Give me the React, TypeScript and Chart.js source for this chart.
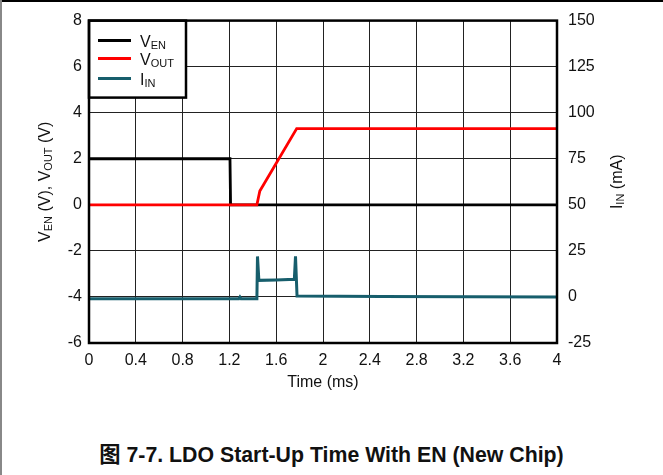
import React, { useEffect, useRef } from "react";
import { Chart, registerables } from "chart.js";

Chart.register(...registerables);

// ---- data ----
const venTime = [0, 1.205, 1.21, 4];
const venValues = [2, 2, 0, 0];

const voutTime = [0, 1.435, 1.46, 1.775, 4];
const voutValues = [0, 0, 0.6, 3.31, 3.31];

const iinTime = [0, 1.28, 1.29, 1.3, 1.435, 1.44, 1.452, 1.6, 1.755, 1.765, 1.778, 2.5, 4];
const iinValues = [-1, -1, 0, -1, -1, 22, 9, 9.2, 9.6, 22, 0.5, 0.3, 0];

const seriesLabels: [string, string][] = [["V", "EN"], ["V", "OUT"], ["I", "IN"]];
const seriesColors = ["#000000", "#ff0000", "#175e6c"];

const xTitle = "Time (ms)";
const caption = "图 7-7. LDO Start-Up Time With EN (New Chip)";

const FONT = "'Liberation Sans', Arial, sans-serif";

type Seg = { t: string; sub?: boolean };

function segWidth(ctx: CanvasRenderingContext2D, segs: Seg[], main: number, sub: number) {
  let w = 0;
  for (const s of segs) {
    ctx.font = `${s.sub ? sub : main}px ${FONT}`;
    w += ctx.measureText(s.t).width;
  }
  return w;
}

function drawSegs(ctx: CanvasRenderingContext2D, segs: Seg[], x: number, y: number, main: number, sub: number) {
  let cx = x;
  ctx.textAlign = "left";
  ctx.textBaseline = "alphabetic";
  for (const s of segs) {
    ctx.font = `${s.sub ? sub : main}px ${FONT}`;
    ctx.fillText(s.t, cx, y + (s.sub ? 2 : 0));
    cx += ctx.measureText(s.t).width;
  }
}

const overlayPlugin = {
  id: "overlay",
  afterDraw(chart: any) {
    const ctx: CanvasRenderingContext2D = chart.ctx;
    const a = chart.chartArea;
    ctx.save();

    // legend
    const lw = 97, lh = 77;
    ctx.fillStyle = "#fff";
    ctx.fillRect(a.left, a.top, lw, lh);
    ctx.lineWidth = 2.5;
    ctx.strokeStyle = "#000";
    ctx.strokeRect(a.left, a.top, lw, lh);
    const rows = [20, 38, 58];
    seriesLabels.forEach((lab, i) => {
      const y = a.top + rows[i];
      ctx.strokeStyle = seriesColors[i];
      ctx.lineWidth = 3;
      ctx.beginPath();
      ctx.moveTo(a.left + 9, y);
      ctx.lineTo(a.left + 42, y);
      ctx.stroke();
      ctx.fillStyle = "#111";
      drawSegs(ctx, [{ t: lab[0] }, { t: lab[1], sub: true }], a.left + 51, y + 6, 16, 11);
    });

    // frame
    ctx.lineWidth = 2.5;
    ctx.strokeStyle = "#000";
    ctx.strokeRect(a.left, a.top, a.right - a.left, a.bottom - a.top);

    ctx.fillStyle = "#111";
    // x title
    ctx.font = `16px ${FONT}`;
    ctx.textAlign = "center";
    ctx.textBaseline = "alphabetic";
    ctx.fillText(xTitle, (a.left + a.right) / 2, a.bottom + 44);

    const midY = (a.top + a.bottom) / 2;
    // left title
    const leftSegs: Seg[] = [
      { t: "V" }, { t: "EN", sub: true }, { t: " (V), V" }, { t: "OUT", sub: true }, { t: " (V)" },
    ];
    ctx.save();
    ctx.translate(50, midY);
    ctx.rotate(-Math.PI / 2);
    const w1 = segWidth(ctx, leftSegs, 16, 11);
    drawSegs(ctx, leftSegs, -w1 / 2, 0, 16, 11);
    ctx.restore();

    // right title
    const rightSegs: Seg[] = [{ t: "I" }, { t: "IN", sub: true }, { t: " (mA)" }];
    ctx.save();
    ctx.translate(622, midY);
    ctx.rotate(-Math.PI / 2);
    const w2 = segWidth(ctx, rightSegs, 16, 11);
    drawSegs(ctx, rightSegs, -w2 / 2, 0, 16, 11);
    ctx.restore();

    ctx.restore();
  },
};

export default function App() {
  const ref = useRef<HTMLCanvasElement | null>(null);

  useEffect(() => {
    document.body.style.margin = "0";
    const canvas = ref.current!;
    const toPts = (xs: number[], ys: number[]) => xs.map((x, i) => ({ x, y: ys[i] }));
    const chart = new Chart(canvas, {
      type: "line",
      data: {
        datasets: [
          {
            label: "VOUT",
            data: toPts(voutTime, voutValues),
            borderColor: seriesColors[1],
            borderWidth: 2.8,
            yAxisID: "y",
            order: 1,
          },
          {
            label: "VEN",
            data: toPts(venTime, venValues),
            borderColor: seriesColors[0],
            borderWidth: 2.8,
            yAxisID: "y",
            order: 2,
          },
          {
            label: "IIN",
            data: toPts(iinTime, iinValues),
            borderColor: seriesColors[2],
            borderWidth: 3,
            yAxisID: "y1",
            order: 3,
          },
        ],
      },
      options: {
        responsive: false,
        animation: false,
        devicePixelRatio: 1,
        layout: { padding: { top: 19, left: 0, right: 0, bottom: 0 } },
        elements: { point: { radius: 0 }, line: { tension: 0 } },
        plugins: { legend: { display: false }, tooltip: { enabled: false } },
        scales: {
          x: {
            type: "linear",
            min: 0,
            max: 4,
            ticks: {
              stepSize: 0.4,
              padding: 8,
              color: "#111",
              font: { family: FONT, size: 16 },
              callback: (v: any) => String(Number(Number(v).toFixed(1))),
              maxRotation: 0,
            },
            grid: { color: "#222", lineWidth: 1, drawTicks: false },
            border: { display: false },
            afterFit: (s: any) => { s.height = 57; },
          },
          y: {
            type: "linear",
            position: "left",
            min: -6,
            max: 8,
            ticks: {
              stepSize: 2,
              padding: 7,
              color: "#111",
              font: { family: FONT, size: 16 },
            },
            grid: { color: "#222", lineWidth: 1, drawTicks: false },
            border: { display: false },
            afterFit: (s: any) => { s.width = 89; },
          },
          y1: {
            type: "linear",
            position: "right",
            min: -25,
            max: 150,
            ticks: {
              stepSize: 25,
              padding: 11,
              color: "#111",
              font: { family: FONT, size: 16 },
            },
            grid: { drawOnChartArea: false, drawTicks: false },
            border: { display: false },
            afterFit: (s: any) => { s.width = 106; },
          },
        },
      },
      plugins: [overlayPlugin],
    } as any);
    return () => chart.destroy();
  }, []);

  return (
    <div style={{ position: "relative", width: 663, height: 475, background: "#fff", overflow: "hidden" }}>
      <div style={{ position: "absolute", left: 0, top: 0, width: 663, height: 2, background: "#000" }} />
      <div style={{ position: "absolute", left: 0, top: 0, width: 2, height: 475, background: "#888" }} />
      <canvas ref={ref} width={663} height={400} style={{ position: "absolute", left: 0, top: 0, width: 663, height: 400 }} />
      <div
        style={{
          position: "absolute",
          left: 0,
          width: 663,
          top: 445,
          textAlign: "center",
          fontFamily: "'Liberation Sans', Arial, 'Noto Sans CJK SC', sans-serif",
          fontWeight: "bold",
          fontSize: 21.3,
          lineHeight: "21px",
          color: "#111",
          whiteSpace: "nowrap",
        }}
      >
        {caption}
      </div>
    </div>
  );
}
